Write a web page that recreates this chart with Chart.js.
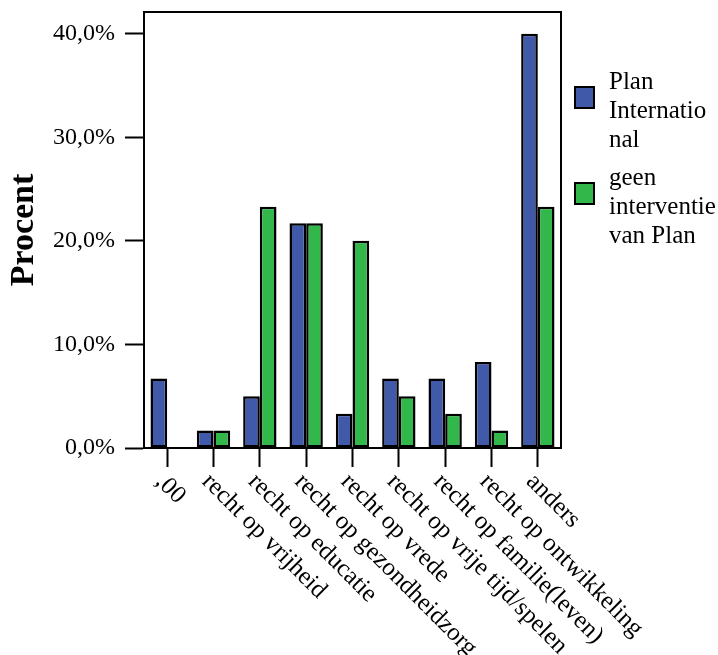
<!DOCTYPE html>
<html>
<head>
<meta charset="utf-8">
<script src="https://cdn.jsdelivr.net/npm/chart.js@4"></script>
<style>
  html, body { margin: 0; padding: 0; background: #fff; }
  #wrap { width: 718px; height: 655px; }
</style>
</head>
<body>
<div id="wrap"><canvas id="barchart" width="718" height="655"></canvas></div>
<script>
// categories on the x axis
var categories = [',00', 'recht op vrijheid', 'recht op educatie', 'recht op gezondheidzorg',
  'recht op vrede', 'recht op vrije tijd/spelen', 'recht op familie(leven)',
  'recht op ontwikkeling', 'anders'];
// percentages per group
var planValues = [6.7, 1.7, 5.0, 21.7, 3.3, 6.7, 6.7, 8.3, 40.0];
var geenValues = [0.0, 1.7, 23.3, 21.7, 20.0, 5.0, 3.3, 1.7, 23.3];
// legend labels, already wrapped like in the original
var planLabel = ['Plan', 'Internatio', 'nal'];
var geenLabel = ['geen', 'interventie', 'van Plan'];
var yTicks = [0, 10, 20, 30, 40];

var serif = '"Liberation Serif", "Times New Roman", serif';
var blue = '#4059a9';
var green = '#31b74a';

// full box around the plot + rotated x labels + legend
var extras = {
  id: 'extras',
  afterDraw: function (chart) {
    var ctx = chart.ctx;
    var a = chart.chartArea;
    ctx.save();
    ctx.strokeStyle = '#000';
    ctx.lineWidth = 2;
    ctx.beginPath();
    ctx.moveTo(a.left, a.top);
    ctx.lineTo(a.right, a.top);
    ctx.lineTo(a.right, a.bottom);
    ctx.stroke();

    // x labels, turned 45 degrees clockwise
    var xs = chart.scales.x;
    ctx.fillStyle = '#000';
    ctx.font = '25px ' + serif;
    ctx.textAlign = 'left';
    ctx.textBaseline = 'top';
    categories.forEach(function (c, i) {
      var x = xs.getPixelForValue(i);
      ctx.save();
      ctx.translate(x + 1, a.bottom + 21);
      ctx.rotate(Math.PI / 4);
      ctx.fillText(c, 0, 0);
      ctx.restore();
    });

    // legend
    var items = [
      {lines: chart.data.datasets[0].legendLines, color: chart.data.datasets[0].backgroundColor, top: 68},
      {lines: chart.data.datasets[1].legendLines, color: chart.data.datasets[1].backgroundColor, top: 164}
    ];
    ctx.textBaseline = 'middle';
    items.forEach(function (it) {
      var mid = it.top + 29;
      ctx.fillStyle = it.color;
      ctx.fillRect(575, mid - 10, 19, 21);
      ctx.strokeStyle = '#000';
      ctx.lineWidth = 2;
      ctx.strokeRect(575, mid - 10, 19, 21);
      ctx.fillStyle = '#000';
      it.lines.forEach(function (l, j) {
        ctx.fillText(l, 609, it.top + 14 + j * 29);
      });
    });
    ctx.restore();
  }
};

var ctx = document.getElementById('barchart').getContext('2d');
var chart = new Chart(ctx, {
  type: 'bar',
  data: {
    labels: categories,
    datasets: [
      {label: planLabel.join(''), legendLines: planLabel, data: planValues,
        backgroundColor: blue, borderColor: '#000', borderWidth: 2.5, borderSkipped: false},
      {label: geenLabel.join(' '), legendLines: geenLabel, data: geenValues,
        backgroundColor: green, borderColor: '#000', borderWidth: 2.5, borderSkipped: false}
    ]
  },
  options: {
    responsive: false,
    animation: false,
    layout: {padding: {top: 12, right: 157, left: 0, bottom: 0}},
    datasets: {bar: {categoryPercentage: 0.72, barPercentage: 1.0}},
    plugins: {legend: {display: false}, tooltip: {enabled: false}},
    scales: {
      x: {
        grid: {offset: false, drawOnChartArea: false, drawTicks: true, tickLength: 19, tickColor: '#000', tickWidth: 2},
        border: {display: true, color: '#000', width: 2},
        ticks: {display: false},
        afterFit: function (s) { s.height = 207; }
      },
      y: {
        min: 0,
        max: 42.1,
        afterBuildTicks: function (s) {
          s.ticks = yTicks.map(function (v) { return {value: v}; });
        },
        grid: {drawOnChartArea: false, drawTicks: true, tickLength: 19, tickColor: '#000', tickWidth: 2},
        border: {display: true, color: '#000', width: 2},
        ticks: {
          color: '#000',
          padding: 10,
          font: {family: serif, size: 24},
          callback: function (v) { return v.toFixed(1).replace('.', ',') + '%'; }
        },
        title: {
          display: true,
          text: 'Procent',
          color: '#000',
          font: {family: serif, size: 34, weight: 'bold'},
          padding: {top: 4, bottom: 0}
        },
        afterFit: function (s) {
          s.width = 144;
          s.paddingTop = 0;
          s.paddingBottom = 0;
        }
      }
    }
  },
  plugins: [extras]
});
</script>
</body>
</html>
